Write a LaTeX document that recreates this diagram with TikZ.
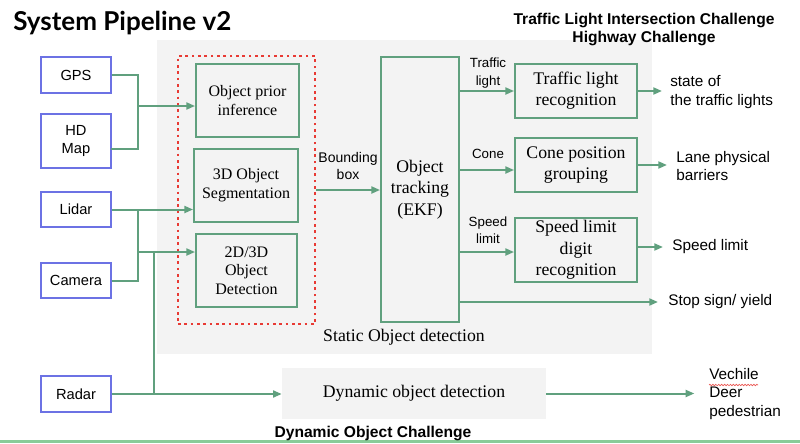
\documentclass[tikz,border=0pt]{standalone}
\usepackage{fontspec}
\setmainfont{Liberation Serif}
\setsansfont{Liberation Sans}
\newfontfamily\titlefont{Lato}
\usetikzlibrary{arrows.meta,calc,decorations.pathmorphing}
\definecolor{pgreen}{RGB}{96,160,126}
\definecolor{inblue}{RGB}{108,114,228}
\definecolor{bgray}{RGB}{243,243,243}
\definecolor{dotred}{RGB}{232,58,52}
\definecolor{bline}{RGB}{136,204,152}
\tikzset{
  inbox/.style={draw=inblue, line width=1.1pt, fill=white, inner sep=0pt,
    font=\sffamily\fontsize{11}{13}\selectfont, align=center, minimum width=52.5pt},
  gbox/.style={draw=pgreen, line width=1.4pt, inner sep=0pt, align=center},
  smallser/.style={font=\fontsize{12}{14}\selectfont},
  bigser/.style={font=\fontsize{13.3}{16}\selectfont},
  conn/.style={draw=pgreen, line width=1.5pt},
  arr/.style={conn, -{Triangle[length=6.5pt,width=5.2pt]}},
  lbl/.style={font=\sffamily\fontsize{10}{13}\selectfont, align=center, inner sep=0pt},
  outlbl/.style={font=\sffamily\fontsize{11.5}{14}\selectfont, align=left, anchor=west, inner sep=0pt},
  boldlbl/.style={font=\sffamily\bfseries\fontsize{11.7}{14}\selectfont, inner sep=0pt, anchor=base},
}
\begin{document}
\begin{tikzpicture}[x=0.75pt,y=-0.75pt]
\useasboundingbox (0,0) rectangle (800,443);
\fill[white] (0,0) rectangle (800,443);
% backgrounds
\fill[bgray] (157,40) rectangle (652,354);
\fill[bline] (0,440) rectangle (800,443);

% titles
\node[anchor=base west, inner sep=0pt, font=\titlefont\bfseries\fontsize{19.5}{22}\selectfont] (title) at (13,30) {System Pipeline v2};
\node[boldlbl] (ch1) at (644,24) {Traffic Light Intersection Challenge};
\node[boldlbl] (ch2) at (644,42.5) {Highway Challenge};
\node[boldlbl] (ch3) at (373,437) {Dynamic Object Challenge};

% inputs
\node[inbox, minimum height=27pt] (gps) at (76,75) {GPS};
\node[inbox, minimum height=40.5pt] (hdmap) at (76,141) {HD\\Map};
\node[inbox, minimum height=26.25pt] (lidar) at (76,209.5) {Lidar};
\node[inbox, minimum height=26.25pt] (camera) at (76,280.5) {Camera};
\node[inbox, minimum height=27pt] (radar) at (76,394) {Radar};

% group
\node[draw=dotred, line width=2.2pt, dash pattern=on 2.1pt off 2.65pt,
      minimum width=102.75pt, minimum height=201pt, inner sep=0pt] (group) at (246.5,190) {};
\node[gbox, smallser, minimum width=77.25pt, minimum height=54.75pt] (prior) at (247.5,100.5) {Object prior\\inference};
\node[gbox, smallser, minimum width=78pt, minimum height=54.75pt] (seg) at (246,185.5) {3D Object\\Segmentation};
\node[gbox, smallser, minimum width=75.75pt, minimum height=54.75pt] (det) at (246.5,270.5) {2D/3D\\Object\\Detection};

\node[gbox, bigser, minimum width=58.5pt, minimum height=198.75pt] (track) at (420,189.5) {Object\\tracking\\(EKF)};
\node[gbox, bigser, minimum width=91.5pt, minimum height=40.5pt] (tlr) at (576,91) {Traffic light\\recognition};
\node[gbox, bigser, minimum width=91.5pt, minimum height=40.5pt] (cone) at (576,165) {Cone position\\grouping};
\node[gbox, bigser, minimum width=91.5pt, minimum height=48pt] (speed) at (576,250) {Speed limit\\digit\\recognition};
\node[fill=bgray, bigser, minimum width=198pt, minimum height=38.25pt, inner sep=0pt] (dyn) at (414,393.5) {Dynamic object detection};
\node[bigser, anchor=base, inner sep=0pt] (static) at (404,341) {Static Object detection};

% labels
\node[lbl, font=\sffamily\fontsize{10.5}{13}\selectfont] (bblbl) at (348,166) {Bounding\\box};
\node[lbl] (tllbl) at (488,73) {Traffic\\light};
\node[lbl] (conelbl) at (488,154) {Cone};
\node[lbl] (splbl) at (488,230) {Speed\\limit};

% outputs
\node[outlbl] (stl) at (670,92) {state of\\the traffic lights};
\node[outlbl] (lane) at (676,166) {Lane physical\\barriers};
\node[outlbl] (spout) at (672,247) {Speed limit};
\node[outlbl] (stop) at (668,302) {Stop sign/ yield};
\node[outlbl] (veh) at (709,394) {Vechile\\Deer\\pedestrian};
\draw[dotred!85!white, line width=0.5pt, decorate, decoration={snake, amplitude=0.55pt, segment length=2.2pt}] (709,385) -- (758,385);

% junction coordinates
\coordinate (jA) at (138,149);
\coordinate (hdin) at (111,149);
\coordinate (jB) at (138,106);
\coordinate (jC) at (138,209.5);
\coordinate (jD) at (138,252);
\coordinate (jE) at (154,252);
\coordinate (cin) at (459,170);
\coordinate (sin) at (459,252);
\coordinate (stopin) at (459,302);
\coordinate (sout) at (637,247);

% input connectors
\draw[conn] (gps.east) -| (jA) -- (hdin);
\draw[arr] (jB) -- (jB -| prior.west);
\draw[arr] (lidar.east) -- (lidar.east -| seg.west);
\draw[conn] (camera.east) -| (jC);
\draw[arr] (jD) -- (jD -| det.west);
\draw[conn] (jE) -- (jE |- radar.east);
\draw[arr] (radar.east) -- (radar.east -| dyn.west);

% middle connectors
\draw[arr] (group.east) -- (group.east -| track.west);
\draw[arr] (track.east |- tlr.west) -- (tlr.west);
\draw[arr] (cin) -- (cin -| cone.west);
\draw[arr] (sin) -- (sin -| speed.west);
\draw[arr, shorten >=7.5pt] (stopin) -- (stopin -| stop.west);

% output connectors
\draw[arr, shorten >=6pt] (tlr.east) -- (tlr.east -| stl.west);
\draw[arr, shorten >=6.75pt] (cone.east) -- (cone.east -| lane.west);
\draw[arr, shorten >=6.75pt] (sout) -- (sout -| spout.west);
\draw[arr, shorten >=11pt] (dyn.east) -- (dyn.east -| veh.west);
\end{tikzpicture}
\end{document}
